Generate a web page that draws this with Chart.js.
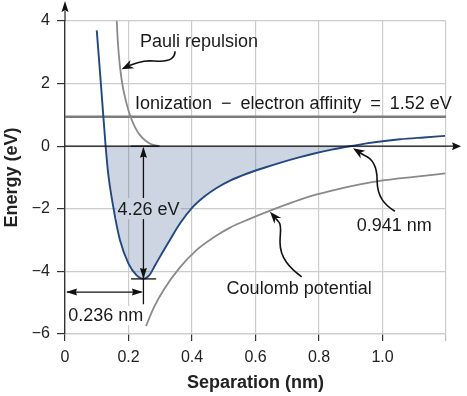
<!DOCTYPE html>
<html><head><meta charset="utf-8">
<script src="https://cdn.jsdelivr.net/npm/chart.js@4.4.1/dist/chart.umd.min.js"></script>
<style>html,body{margin:0;padding:0;background:#fff;}#wrap{width:467px;height:396px;position:relative;}</style>
</head><body><div id="wrap"><canvas id="c" width="467" height="396"></canvas></div>
<script>
// ---- data ----
const bondX = [0.100,0.113,0.128,0.136,0.152,0.173,0.200,0.225,0.247,0.265,0.283,0.305,0.336,0.362,0.400,0.440,0.480,0.520,0.572,0.630,0.677,0.740,0.782,0.840,0.898,0.950,1.000,1.055,1.130,1.197];
const bondY = [3.70,2.00,0.00,-0.87,-1.94,-3.00,-3.75,-4.12,-4.24,-4.13,-3.82,-3.43,-2.90,-2.47,-1.97,-1.60,-1.32,-1.10,-0.88,-0.68,-0.53,-0.35,-0.24,-0.11,0.00,0.09,0.16,0.22,0.28,0.33];
const pauliX = [0.163,0.166,0.173,0.182,0.194,0.205,0.220,0.235,0.252,0.270,0.298];
const pauliY = [4.00,3.40,2.55,1.90,1.36,0.98,0.62,0.37,0.19,0.07,0.00];
const coulX = [0.255,0.280,0.310,0.362,0.415,0.470,0.520,0.580,0.646,0.720,0.782,0.860,0.929,0.992,1.100,1.197];
const coulY = [-5.75,-5.15,-4.60,-3.87,-3.31,-2.90,-2.60,-2.33,-2.06,-1.78,-1.57,-1.37,-1.22,-1.11,-0.98,-0.87];
const ionX = [0, 1.2];
const ionY = [0.94, 0.94];
const xTickValues = [0, 0.2, 0.4, 0.6, 0.8, 1.0];
const xTickLabels = ['0', '0.2', '0.4', '0.6', '0.8', '1.0'];
const yTickValues = [-6, -4, -2, 0, 2, 4];
const yTickLabels = ['\u22126', '\u22124', '\u22122', '0', '2', '4'];
const labelPauli = 'Pauli repulsion';
const labelIon = 'Ionization\u2002\u2212\u2002electron affinity\u2002=\u20021.52 eV';
const labelDepth = '4.26 eV';
const labelR0 = '0.236 nm';
const labelCross = '0.941 nm';
const labelCoul = 'Coulomb potential';
const xTitle = 'Separation (nm)';
const yTitle = 'Energy (eV)';

const pts = (xs, ys) => xs.map((x, i) => ({x, y: ys[i]}));
const FONT = '"Liberation Sans", Arial, Helvetica, sans-serif';
const SHADE = 'rgba(55,87,143,0.25)';

function head(ctx, fx, fy, tx, ty, len, w, notch) {
  const ang = Math.atan2(ty - fy, tx - fx);
  const c = Math.cos(ang), s = Math.sin(ang);
  const bx = tx - len * c, by = ty - len * s;
  ctx.beginPath();
  ctx.moveTo(tx, ty);
  ctx.lineTo(bx - w / 2 * s, by + w / 2 * c);
  ctx.lineTo(tx - len * notch * c, ty - len * notch * s);
  ctx.lineTo(bx + w / 2 * s, by - w / 2 * c);
  ctx.closePath();
  ctx.fill();
}

const annot = {
  id: 'annot',
  afterDatasetsDraw(chart) {
    const {ctx, chartArea: a, scales: {x: xs, y: ys}} = chart;
    const X = v => xs.getPixelForValue(v), Y = v => ys.getPixelForValue(v);
    ctx.save();
    ctx.fillStyle = '#111'; ctx.strokeStyle = '#111';
    ctx.lineWidth = 1.3;
    ctx.beginPath(); ctx.moveTo(a.left, Y(0)); ctx.lineTo(a.right + 8, Y(0)); ctx.stroke();
    head(ctx, a.right, Y(0), a.right + 15, Y(0), 9, 8, 0.85);
    ctx.strokeStyle = '#333'; ctx.fillStyle = '#111';
    ctx.beginPath(); ctx.moveTo(a.left, a.top); ctx.lineTo(a.left, a.top - 10); ctx.stroke();
    head(ctx, a.left, a.top, a.left, a.top - 20, 11, 7, 0.85);

    let im = 0; bondY.forEach((v, i) => { if (v < bondY[im]) im = i; });
    const xm = bondX[im], ym = bondY[im];
    ctx.strokeStyle = '#111'; ctx.fillStyle = '#111'; ctx.lineWidth = 1.3;
    const vx = X(xm);
    ctx.beginPath(); ctx.moveTo(vx, Y(0) + 2); ctx.lineTo(vx, Y(-5.05)); ctx.stroke();
    head(ctx, vx, Y(ym), vx, Y(0) + 0.5, 11, 7, 0.9);
    head(ctx, vx, Y(0), vx, Y(ym), 11, 7, 0.9);
    ctx.beginPath(); ctx.moveTo(X(0.208), Y(0)); ctx.lineTo(X(0.296), Y(0)); ctx.stroke();
    ctx.beginPath(); ctx.moveTo(X(0.208), Y(ym)); ctx.lineTo(X(0.287), Y(ym)); ctx.stroke();
    const hy = Y(-4.66);
    ctx.beginPath(); ctx.moveTo(X(0) + 2, hy); ctx.lineTo(vx - 2, hy); ctx.stroke();
    head(ctx, vx, hy, X(0) + 1, hy, 11, 7, 0.9);
    head(ctx, X(0), hy, vx - 0.5, hy, 11, 7, 0.9);

    ctx.font = '18px ' + FONT;
    ctx.textBaseline = 'alphabetic'; ctx.textAlign = 'left';
    const dW = ctx.measureText(labelDepth).width;
    const dx = X(0.165), dy = Y(-2.20);
    ctx.fillStyle = '#fff'; ctx.fillRect(dx - 1, dy - 17, dW + 2, 21);
    ctx.fillStyle = SHADE; ctx.fillRect(dx - 1, dy - 17, dW + 2, 21);
    ctx.fillStyle = '#1a1a1a'; ctx.fillText(labelDepth, dx, dy);
    const rW = ctx.measureText(labelR0).width;
    const rx = X(0.0104), ry = Y(-5.59);
    ctx.fillStyle = '#fff'; ctx.fillRect(rx - 1, ry - 15, rW + 2, 19);
    ctx.fillStyle = '#1a1a1a'; ctx.fillText(labelR0, rx, ry);
    ctx.fillText(labelPauli, X(0.236), Y(3.17));
    ctx.fillText(labelIon, X(0.2205), Y(1.20));
    ctx.fillText(labelCross, X(0.919), Y(-2.72));
    ctx.fillText(labelCoul, X(0.509), Y(-4.73));

    ctx.strokeStyle = '#111'; ctx.fillStyle = '#111'; ctx.lineWidth = 1.6;
    const curve = (p, tip) => {
      ctx.beginPath(); ctx.moveTo(X(p[0][0]), Y(p[0][1]));
      for (let i = 1; i < p.length; i += 3)
        ctx.bezierCurveTo(X(p[i][0]), Y(p[i][1]), X(p[i+1][0]), Y(p[i+1][1]), X(p[i+2][0]), Y(p[i+2][1]));
      ctx.stroke();
      const l = p[p.length - 1];
      ctx.beginPath(); ctx.moveTo(X(l[0]), Y(l[1]));
      ctx.lineTo((X(l[0]) + X(tip[0])) / 2, (Y(l[1]) + Y(tip[1])) / 2); ctx.stroke();
      head(ctx, X(l[0]), Y(l[1]), X(tip[0]), Y(tip[1]), 12, 9, 0.7);
    };
    curve([[0.3465,3.035],[0.3465,2.81],[0.331,2.716],[0.299,2.716],[0.268,2.716],[0.252,2.78],[0.205,2.588]], [0.178,2.46]);
    curve([[1.039,-2.077],[1.008,-1.885],[0.983,-1.629],[0.983,-1.086],[0.983,-0.607],[0.967,-0.383],[0.942,-0.288]], [0.907,-0.064]);
    curve([[0.7455,-4.176],[0.7087,-3.898],[0.6772,-3.578],[0.6772,-3.067],[0.6772,-2.748],[0.6835,-2.556],[0.674,-2.428]], [0.6457,-2.093]);
    ctx.restore();
  }
};

Chart.defaults.font.family = FONT;
new Chart(document.getElementById('c'), {
  type: 'line',
  data: {
    datasets: [
      {data: pts(bondX, bondY), borderColor: '#23487f', borderWidth: 1.9, pointRadius: 0,
       cubicInterpolationMode: 'monotone',
       fill: {target: 'origin', above: 'rgba(0,0,0,0)', below: SHADE}},
      {data: pts(pauliX, pauliY), borderColor: '#8a8a8a', borderWidth: 1.8, pointRadius: 0, cubicInterpolationMode: 'monotone', fill: false},
      {data: pts(coulX, coulY), borderColor: '#8a8a8a', borderWidth: 1.8, pointRadius: 0, cubicInterpolationMode: 'monotone', fill: false},
      {data: pts(ionX, ionY), borderColor: '#7c7c7c', borderWidth: 2.6, pointRadius: 0, tension: 0, fill: false}
    ]
  },
  options: {
    responsive: false, animation: false,
    layout: {padding: {top: 21, right: 21, left: 0, bottom: 0}},
    plugins: {legend: {display: false}, tooltip: {enabled: false}},
    scales: {
      x: {
        type: 'linear', min: 0, max: 1.2,
        afterFit: s => { s.height = 62; },
        afterBuildTicks: s => { s.ticks = [...xTickValues, 1.2].map(v => ({value: v})); },
        ticks: {
          autoSkip: false, maxRotation: 0, padding: 7, color: '#222', font: {size: 16},
          callback: v => { const i = xTickValues.findIndex(t => Math.abs(t - v) < 1e-6); return i < 0 ? '' : xTickLabels[i]; }
        },
        grid: {
          color: c => (c.tick && Math.abs(c.tick.value) < 1e-6) ? 'rgba(0,0,0,0)' : '#cccccc',
          tickColor: c => (c.tick && c.tick.value > 1.1) ? '#bbbbbb' : '#333333',
          tickLength: 7, lineWidth: 1.2
        },
        border: {display: true, color: '#cccccc', width: 1.2},
        title: {display: true, text: xTitle, color: '#222', font: {size: 18, weight: 'bold'}, padding: {top: 0, bottom: 2}}
      },
      y: {
        type: 'linear', min: -6, max: 4,
        afterFit: s => { s.width = 65; },
        afterBuildTicks: s => { s.ticks = yTickValues.map(v => ({value: v})); },
        ticks: {
          padding: 7, color: '#222', font: {size: 16},
          callback: v => { const i = yTickValues.findIndex(t => Math.abs(t - v) < 1e-6); return i < 0 ? '' : yTickLabels[i]; }
        },
        grid: {color: '#cccccc', tickColor: '#333333', tickLength: 8, lineWidth: 1.2},
        border: {display: true, color: '#333333', width: 1.4},
        title: {display: true, text: yTitle, color: '#222', font: {size: 18, weight: 'bold'}, padding: {top: 1, bottom: 0}}
      }
    }
  },
  plugins: [annot]
});
</script></body></html>
